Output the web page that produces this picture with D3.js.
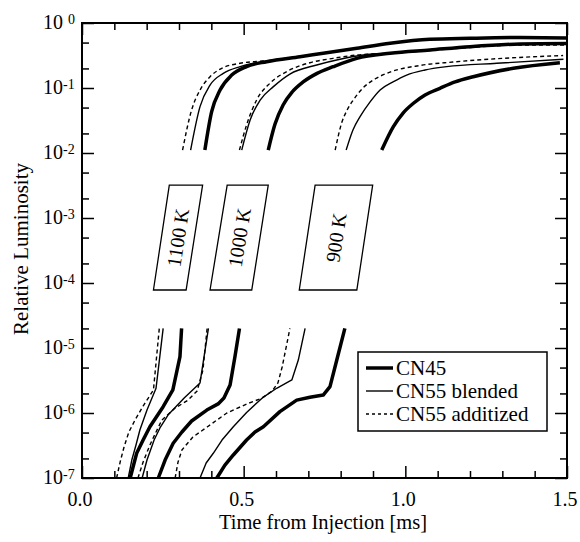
<!DOCTYPE html>
<html>
<head>
<meta charset="utf-8">
<script src="https://cdnjs.cloudflare.com/ajax/libs/d3/7.8.5/d3.min.js"></script>
<style>
  body { margin: 0; background: #fff; }
  svg text { font-family: "Liberation Serif", "Times New Roman", serif; fill: #000; }
</style>
</head>
<body>
<svg id="chart" width="580" height="542"></svg>
<script>
// series order inside every array: 1100 K, 1000 K, 900 K ; points are [time ms, relative luminosity]
const fuels = ["CN45", "CN55 blended", "CN55 additized"];
const temps = ["1100 K", "1000 K", "900 K"];

// low-luminosity branch (1e-7 .. 2e-5)
const cn45Low = [
  [[0.149, 1.0e-7], [0.169, 2.4e-7], [0.189, 3.84e-7], [0.210, 6.15e-7], [0.251, 1.25e-6], [0.281, 2.26e-6], [0.303, 7.35e-6], [0.308, 2.0e-5]],
  [[0.236, 1.0e-7], [0.257, 1.89e-7], [0.282, 3.42e-7], [0.309, 5.1e-7], [0.339, 7.53e-7], [0.386, 1.11e-6], [0.421, 1.38e-6], [0.439, 1.7e-6], [0.458, 2.7e-6], [0.473, 7.35e-6], [0.487, 2.0e-5]],
  [[0.417, 1.0e-7], [0.442, 1.58e-7], [0.468, 2.26e-7], [0.509, 3.84e-7], [0.535, 5.1e-7], [0.561, 6.15e-7], [0.612, 1.05e-6], [0.664, 1.58e-6], [0.705, 1.75e-6], [0.746, 1.89e-6], [0.767, 2.54e-6], [0.788, 6.53e-6], [0.813, 2.0e-5]]
];
const cn55bLow = [
  [[0.143, 1.0e-7], [0.154, 1.89e-7], [0.167, 3.22e-7], [0.179, 5.47e-7], [0.201, 1.11e-6], [0.229, 2.4e-6], [0.251, 2.0e-5]],
  [[0.186, 1.0e-7], [0.201, 1.89e-7], [0.223, 3.84e-7], [0.241, 5.88e-7], [0.266, 9.31e-7], [0.316, 1.7e-6], [0.365, 2.9e-6], [0.391, 2.0e-5]],
  [[0.365, 1.0e-7], [0.384, 1.7e-7], [0.406, 2.4e-7], [0.433, 3.84e-7], [0.468, 6.15e-7], [0.509, 1.02e-6], [0.544, 1.48e-6], [0.561, 1.76e-6], [0.602, 2.4e-6], [0.649, 3.22e-6], [0.669, 6.53e-6], [0.690, 2.0e-5]]
];
const cn55aLow = [
  [[0.107, 1.0e-7], [0.118, 1.76e-7], [0.130, 3.0e-7], [0.145, 5.1e-7], [0.164, 7.8e-7], [0.189, 1.28e-6], [0.221, 2.26e-6], [0.239, 2.0e-5]],
  [[0.173, 1.0e-7], [0.189, 1.76e-7], [0.210, 3.22e-7], [0.229, 5.1e-7], [0.247, 7.8e-7], [0.288, 1.19e-6], [0.328, 1.58e-6], [0.356, 2.18e-6], [0.374, 4.59e-6], [0.387, 2.0e-5]],
  [[0.288, 1.0e-7], [0.297, 1.76e-7], [0.309, 2.7e-7], [0.343, 4.27e-7], [0.387, 6.09e-7], [0.448, 1.0e-6], [0.510, 1.38e-6], [0.557, 1.7e-6], [0.588, 2.18e-6], [0.606, 2.9e-6], [0.619, 5.1e-6], [0.634, 1.19e-5], [0.643, 2.0e-5]]
];

// high-luminosity branch (1e-2 .. 1)
const cn45High = [
  [[0.380, 0.0111], [0.401, 0.0432], [0.427, 0.0931], [0.463, 0.158], [0.509, 0.213], [0.571, 0.254], [0.674, 0.303], [0.746, 0.342], [0.850, 0.408], [0.953, 0.487], [1.076, 0.561], [1.2, 0.582], [1.355, 0.598], [1.5, 0.59]],
  [[0.576, 0.0111], [0.597, 0.0279], [0.622, 0.0547], [0.650, 0.0868], [0.684, 0.124], [0.727, 0.168], [0.777, 0.213], [0.850, 0.286], [0.953, 0.342], [1.076, 0.384], [1.2, 0.432], [1.355, 0.475], [1.5, 0.484]],
  [[0.927, 0.0111], [0.963, 0.0254], [0.993, 0.0412], [1.025, 0.0582], [1.061, 0.078], [1.107, 0.099], [1.154, 0.124], [1.210, 0.149], [1.334, 0.201], [1.478, 0.245]]
];
const cn55bHigh = [
  [[0.336, 0.0111], [0.365, 0.0516], [0.396, 0.111], [0.437, 0.168], [0.489, 0.213], [0.530, 0.240], [0.581, 0.265], [0.674, 0.303], [0.746, 0.342], [0.850, 0.408], [0.953, 0.487], [1.076, 0.561], [1.2, 0.582], [1.355, 0.598], [1.5, 0.59]],
  [[0.494, 0.0111], [0.520, 0.0322], [0.551, 0.0653], [0.592, 0.105], [0.643, 0.164], [0.726, 0.226], [0.798, 0.277], [0.870, 0.322], [0.953, 0.342], [1.076, 0.384], [1.2, 0.432], [1.355, 0.475], [1.5, 0.484]],
  [[0.817, 0.0111], [0.838, 0.0226], [0.860, 0.0362], [0.891, 0.061], [0.922, 0.0931], [0.962, 0.124], [1.004, 0.158], [1.061, 0.189], [1.128, 0.213], [1.283, 0.240], [1.489, 0.277]]
];
const cn55aHigh = [
  [[0.311, 0.0111], [0.339, 0.0459], [0.365, 0.0931], [0.396, 0.149], [0.432, 0.201], [0.489, 0.240], [0.529, 0.254], [0.581, 0.265], [0.674, 0.303], [0.746, 0.342], [0.850, 0.408], [0.953, 0.487], [1.076, 0.561], [1.2, 0.582], [1.355, 0.598], [1.5, 0.59]],
  [[0.487, 0.0111], [0.509, 0.027], [0.540, 0.0653], [0.581, 0.118], [0.637, 0.183], [0.705, 0.245], [0.777, 0.286], [0.850, 0.322], [0.953, 0.342], [1.076, 0.377], [1.2, 0.42], [1.355, 0.459], [1.5, 0.459]],
  [[0.783, 0.0111], [0.803, 0.029], [0.820, 0.0459], [0.839, 0.0653], [0.869, 0.100], [0.906, 0.1375], [0.953, 0.176], [1.045, 0.222], [1.147, 0.251], [1.302, 0.286], [1.488, 0.316]]
];

// temperature label boxes (parallelograms), in data units
const boxTop = 3.2e-3, boxBottom = 7.8e-5;
const boxTopT = [[0.270, 0.373], [0.449, 0.576], [0.721, 0.899]];
const boxBottomT = [[0.221, 0.322], [0.396, 0.525], [0.672, 0.850]];

// axes
const xMajor = [0, 0.5, 1.0, 1.5];
const xTickLabels = ["0.0", "0.5", "1.0", "1.5"];
const yMajor = [1e-7, 1e-6, 1e-5, 1e-4, 1e-3, 1e-2, 1e-1, 1];
const yExponents = ["-7", "-6", "-5", "-4", "-3", "-2", "-1", "0"];

const margin = { top: 23, right: 13, bottom: 64, left: 82 },
  width = 580 - margin.left - margin.right,
  height = 542 - margin.top - margin.bottom;

const svg = d3.select("#chart");
const g = svg.append("g").attr("transform", `translate(${margin.left},${margin.top})`);

const x = d3.scaleLinear().domain([0, 1.5]).range([0, width]);
const y = d3.scaleLog().domain([1e-7, 1]).range([height, 0]);

const xMinor = d3.range(1, 15).filter((k) => k % 5).map((k) => k / 10);
const yMinor = [];
d3.range(-7, 0).forEach((n) => {
  yMinor.push(2 * Math.pow(10, n), 5 * Math.pow(10, n));
});

function ticks(axis, values, size, transform) {
  const a = g.append("g")
    .attr("transform", transform)
    .call(axis.tickValues(values).tickSize(-size).tickFormat(""));
  a.select(".domain").remove();
  a.selectAll("line").attr("stroke", "#000").attr("stroke-width", 1.5);
}
ticks(d3.axisBottom(x), xMajor, 12, `translate(0,${height})`);
ticks(d3.axisBottom(x), xMinor, 7, `translate(0,${height})`);
ticks(d3.axisTop(x), xMajor, 12, "translate(0,0)");
ticks(d3.axisTop(x), xMinor, 7, "translate(0,0)");
ticks(d3.axisLeft(y), yMajor, 12, "translate(0,0)");
ticks(d3.axisLeft(y), yMinor, 7, "translate(0,0)");
ticks(d3.axisRight(y), yMajor, 12, `translate(${width},0)`);
ticks(d3.axisRight(y), yMinor, 7, `translate(${width},0)`);

g.append("rect")
  .attr("width", width)
  .attr("height", height)
  .attr("fill", "none")
  .attr("stroke", "#000")
  .attr("stroke-width", 2);

// tick labels
g.selectAll(".xlab")
  .data(xMajor)
  .join("text")
  .attr("class", "xlab")
  .attr("x", (d) => x(d) - 2)
  .attr("y", height + 28)
  .attr("text-anchor", "middle")
  .attr("font-size", 20)
  .text((d, i) => xTickLabels[i]);

const ylab = g.selectAll(".ylab")
  .data(yMajor)
  .join("text")
  .attr("class", "ylab")
  .attr("x", -39)
  .attr("y", (d) => y(d) + 6)
  .attr("font-size", 20);
ylab.append("tspan").text("10");
ylab.append("tspan")
  .attr("dy", -5)
  .attr("dx", (d, i) => (yExponents[i] === "0" ? 5 : 0))
  .attr("font-size", 14)
  .text((d, i) => yExponents[i]);

svg.append("text")
  .attr("transform", "translate(28,249) rotate(-90)")
  .attr("text-anchor", "middle")
  .attr("font-size", 21)
  .text("Relative Luminosity");

svg.append("text")
  .attr("x", 323)
  .attr("y", 529)
  .attr("text-anchor", "middle")
  .attr("font-size", 20.5)
  .text("Time from Injection [ms]");

// curves
const styles = {
  "CN45": { width: 3.5, dash: null },
  "CN55 blended": { width: 1.4, dash: null },
  "CN55 additized": { width: 1.4, dash: "4,3" },
};
const lowLine = d3.line().x((d) => x(d[0])).y((d) => y(d[1]));
const highLine = d3.line().curve(d3.curveMonotoneX).x((d) => x(d[0])).y((d) => y(d[1]));

const groups = [
  { fuel: "CN55 additized", low: cn55aLow, high: cn55aHigh },
  { fuel: "CN55 blended", low: cn55bLow, high: cn55bHigh },
  { fuel: "CN45", low: cn45Low, high: cn45High },
];
groups.forEach((grp) => {
  const st = styles[grp.fuel];
  [[grp.low, lowLine], [grp.high, highLine]].forEach(([series, gen]) => {
    g.append("g")
      .selectAll("path")
      .data(series)
      .join("path")
      .attr("d", gen)
      .attr("fill", "none")
      .attr("stroke", "#000")
      .attr("stroke-width", st.width)
      .attr("stroke-dasharray", st.dash)
      .attr("stroke-linejoin", "round");
  });
});

// temperature boxes
temps.forEach((lab, i) => {
  const pts = [
    [x(boxTopT[i][0]), y(boxTop)],
    [x(boxTopT[i][1]), y(boxTop)],
    [x(boxBottomT[i][1]), y(boxBottom)],
    [x(boxBottomT[i][0]), y(boxBottom)],
  ];
  g.append("polygon")
    .attr("points", pts.map((p) => p.join(",")).join(" "))
    .attr("fill", "#fff")
    .attr("stroke", "#000")
    .attr("stroke-width", 1.3);
  const cx = d3.mean(pts, (p) => p[0]);
  const cy = d3.mean(pts, (p) => p[1]);
  const dx = (pts[0][0] + pts[1][0]) / 2 - (pts[2][0] + pts[3][0]) / 2;
  const dy = pts[0][1] - pts[3][1];
  const angle = (Math.atan2(dy, dx) * 180) / Math.PI;
  g.append("text")
    .attr("transform", `translate(${cx},${cy}) rotate(${angle})`)
    .attr("text-anchor", "middle")
    .attr("dominant-baseline", "central")
    .attr("font-size", 20)
    .text(lab);
});

// legend
const legend = svg.append("g").attr("id", "legend");
legend.append("rect")
  .attr("x", 358)
  .attr("y", 352)
  .attr("width", 189)
  .attr("height", 79)
  .attr("fill", "#fff")
  .attr("stroke", "#000")
  .attr("stroke-width", 1.5);
fuels.forEach((f, idx) => {
  const st = styles[f];
  legend.append("line")
    .attr("x1", 366)
    .attr("x2", 393)
    .attr("y1", 368 + idx * 23)
    .attr("y2", 368 + idx * 23)
    .attr("stroke", "#000")
    .attr("stroke-width", st.width)
    .attr("stroke-dasharray", st.dash ? "3,3" : null);
  legend.append("text")
    .attr("x", 396)
    .attr("y", 375 + idx * 23)
    .attr("font-size", 21)
    .text(f);
});
</script>
</body>
</html>
